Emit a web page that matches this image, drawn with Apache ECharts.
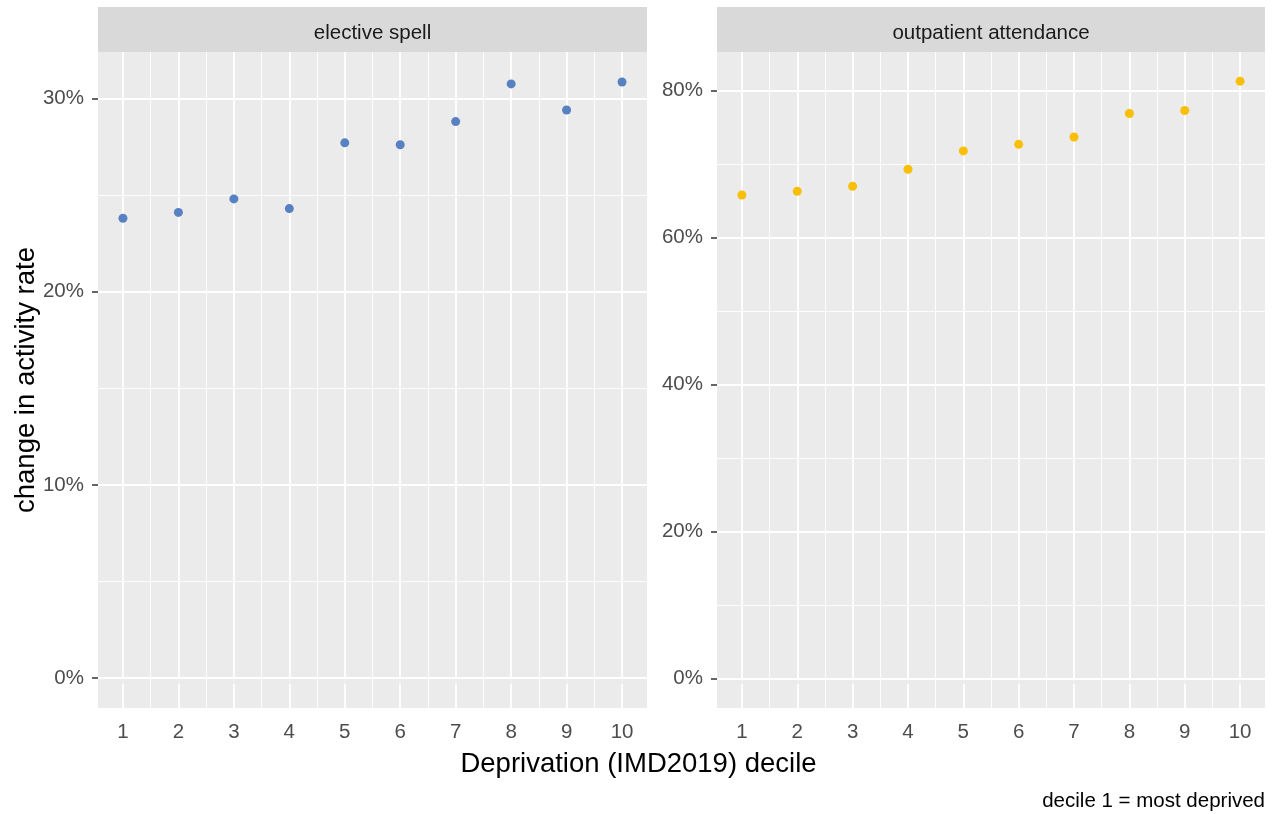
<!DOCTYPE html>
<html>
<head>
<meta charset="utf-8">
<script src="https://cdn.jsdelivr.net/npm/echarts@6/dist/echarts.min.js"></script>
<style>
  html, body { margin: 0; padding: 0; background: #fff; }
  #chart { width: 1277px; height: 814px; }
</style>
</head>
<body>
<div id="chart"></div>
<script>
var deciles = [1, 2, 3, 4, 5, 6, 7, 8, 9, 10];
var electiveSpell = [23.8, 24.1, 24.8, 24.3, 27.7, 27.6, 28.8, 30.75, 29.4, 30.85];
var outpatient = [65.8, 66.3, 67.0, 69.3, 71.8, 72.7, 73.7, 76.9, 77.3, 81.3];
var panelNames = ['elective spell', 'outpatient attendance'];
var leftTicks = [0, 10, 20, 30];
var leftMinor = [5, 15, 25];
var rightTicks = [0, 20, 40, 60, 80];
var rightMinor = [10, 30, 50, 70];
var xMinor = [1.5, 2.5, 3.5, 4.5, 5.5, 6.5, 7.5, 8.5, 9.5];

var FONT = 'Liberation Sans, Arial, sans-serif';
var chart = echarts.init(document.getElementById('chart'), null, {renderer: 'canvas'});

function pairs(ys) {
    return deciles.map(function (d, i) { return [d, ys[i]]; });
}

// grid lines drawn as markLines on an empty series (kept under the points)
function gridSeries(idx, yMajor, yMinor) {
    var data = [];
    yMinor.forEach(function (v) { data.push({yAxis: v, lineStyle: {width: 0.9}}); });
    xMinor.forEach(function (v) { data.push({xAxis: v, lineStyle: {width: 0.9}}); });
    yMajor.forEach(function (v) { data.push({yAxis: v, lineStyle: {width: 1.8}}); });
    deciles.forEach(function (v) { data.push({xAxis: v, lineStyle: {width: 1.8}}); });
    return {
        type: 'scatter', xAxisIndex: idx, yAxisIndex: idx, data: [], z: 1, silent: true,
        markLine: {
            z: 1, silent: true, symbol: ['none', 'none'], animation: false,
            label: {show: false},
            lineStyle: {color: '#ffffff', type: 'solid'},
            emphasis: {disabled: true},
            data: data
        }
    };
}

function xAxis(idx) {
    return {
        type: 'value', gridIndex: idx, min: 0.55, max: 10.45,
        axisLine: {show: false},
        splitLine: {show: false},
        axisTick: {show: true, length: 6, customValues: deciles, lineStyle: {color: '#333333', width: 1.5}},
        axisLabel: {customValues: deciles, color: '#4D4D4D', fontSize: 20.5, fontFamily: FONT, margin: 14}
    };
}

function yAxis(idx, lo, hi, ticks) {
    return {
        type: 'value', gridIndex: idx, min: lo, max: hi,
        axisLine: {show: false},
        splitLine: {show: false},
        axisTick: {show: true, length: 6, customValues: ticks, lineStyle: {color: '#333333', width: 1.5}},
        axisLabel: {customValues: ticks, color: '#4D4D4D', fontSize: 20.5, fontFamily: FONT, margin: 14,
            padding: [4, 0, 0, 0],
            formatter: function (v) { return v + '%'; }}
    };
}

function strip(left, width, text) {
    return {
        type: 'group', left: left, top: 7,
        children: [
            {type: 'rect', shape: {x: 0, y: 0, width: width, height: 45}, style: {fill: '#D9D9D9'}},
            {type: 'text', x: width / 2, y: 26, style: {text: text, fill: '#1A1A1A', font: '20.5px ' + FONT,
                textAlign: 'center', textVerticalAlign: 'middle'}}
        ]
    };
}

var option = {
    animation: false,
    backgroundColor: '#ffffff',
    grid: [
        {left: 98, top: 52, width: 549, height: 656, show: true, backgroundColor: '#EBEBEB', borderWidth: 0},
        {left: 717, top: 52, width: 548, height: 656, show: true, backgroundColor: '#EBEBEB', borderWidth: 0}
    ],
    xAxis: [xAxis(0), xAxis(1)],
    yAxis: [yAxis(0, -1.54, 32.4, leftTicks), yAxis(1, -4.04, 85.27, rightTicks)],
    graphic: [
        strip(98, 549, panelNames[0]),
        strip(717, 548, panelNames[1]),
        {type: 'text', left: 'center', top: 750, style: {text: 'Deprivation (IMD2019) decile', fill: '#000000',
            font: '27.5px ' + FONT}},
        {type: 'text', x: 26, y: 380, rotation: Math.PI / 2, style: {text: 'change in activity rate', fill: '#000000',
            font: '27.5px ' + FONT, textAlign: 'center', textVerticalAlign: 'middle'}},
        {type: 'text', right: 12, top: 791, style: {text: 'decile 1 = most deprived', fill: '#000000',
            font: '20.5px ' + FONT}}
    ],
    series: [
        gridSeries(0, leftTicks, leftMinor),
        gridSeries(1, rightTicks, rightMinor),
        {type: 'scatter', name: panelNames[0], xAxisIndex: 0, yAxisIndex: 0, data: pairs(electiveSpell),
            symbolSize: 9, itemStyle: {color: '#5881C1', opacity: 1}, z: 3},
        {type: 'scatter', name: panelNames[1], xAxisIndex: 1, yAxisIndex: 1, data: pairs(outpatient),
            symbolSize: 9, itemStyle: {color: '#F9BF07', opacity: 1}, z: 3}
    ]
};
chart.setOption(option);
</script>
</body>
</html>
